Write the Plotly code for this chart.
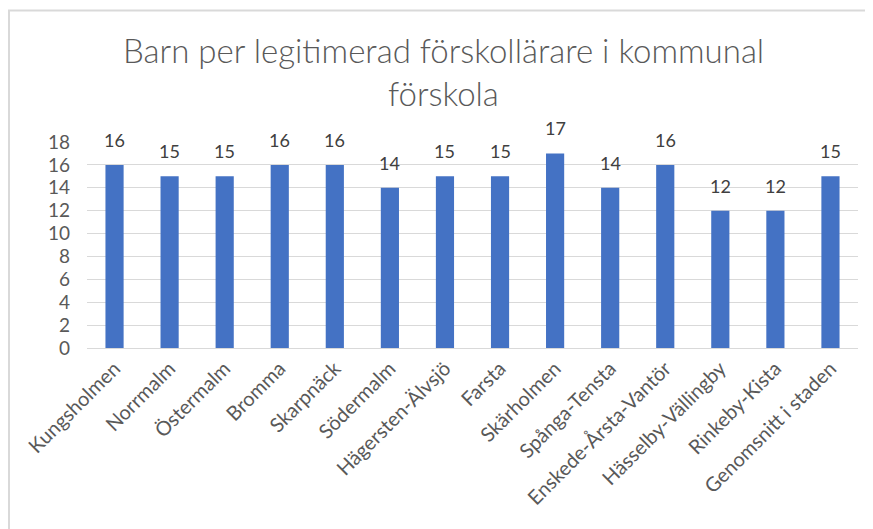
import plotly.graph_objects as go

categories = ["Kungsholmen", "Norrmalm", "Östermalm", "Bromma", "Skarpnäck", "Södermalm",
              "Hägersten-Älvsjö", "Farsta", "Skärholmen", "Spånga-Tensta",
              "Enskede-Årsta-Vantör", "Hässelby-Vällingby", "Rinkeby-Kista", "Genomsnitt i staden"]
values = [16, 15, 15, 16, 16, 14, 15, 15, 17, 14, 16, 12, 12, 15]
yticks = [0, 2, 4, 6, 8, 10, 12, 14, 16, 18]
title_lines = ["Barn per legitimerad förskollärare i kommunal", "förskola"]

OFF = 8  # page body margin
W, H = 873 - OFF, 529 - OFF
L, T = 87 - OFF, 142 - OFF
R = W - (858 - OFF)
B = H - (348 - OFF)
pw, ph = W - L - R, H - T - B

fig = go.Figure()
fig.add_trace(go.Bar(x=categories, y=values, marker_color="#4472C4", width=0.33,
                     marker_line_width=0, hoverinfo="x+y"))
for c, v in zip(categories, values):
    fig.add_annotation(x=c, y=v, text=str(v), showarrow=False, yanchor="bottom", yshift=12,
                       font=dict(family="Lato", size=18, color="#404040"))

def px_x(p):
    return (p - OFF - L) / pw

def px_y(p):
    return (H - B - (p - OFF)) / ph

for line, ymid in zip(title_lines, [50, 93]):
    fig.add_annotation(x=px_x(443), y=px_y(ymid), xref="paper", yref="paper", text=line,
                       showarrow=False, xanchor="center", yanchor="middle",
                       font=dict(family="Lato", size=33, color="#595959", weight=300))

fig.add_shape(type="rect", xref="paper", yref="paper",
              x0=px_x(9), x1=px_x(900), y0=px_y(560), y1=px_y(10.5),
              line=dict(color="#d9d9d9", width=2), fillcolor="rgba(0,0,0,0)", layer="below")

fig.update_layout(
    width=W, height=H, margin=dict(l=L, r=R, t=T, b=B, autoexpand=False),
    paper_bgcolor="white", plot_bgcolor="white", showlegend=False,
    font=dict(family="Lato", color="#595959"),
)
fig.update_xaxes(tickangle=-45, tickfont=dict(size=20, color="#595959"), showgrid=False,
                 showline=True, linecolor="#d9d9d9", linewidth=1, ticks="", automargin=False)
fig.update_yaxes(range=[0, 18], tickvals=yticks, showgrid=True, gridcolor="#d9d9d9",
                 gridwidth=1, zeroline=False, showline=False, automargin=False,
                 tickfont=dict(size=19, color="#595959"), ticklabelstandoff=16)

fig.write_html("out.html")
